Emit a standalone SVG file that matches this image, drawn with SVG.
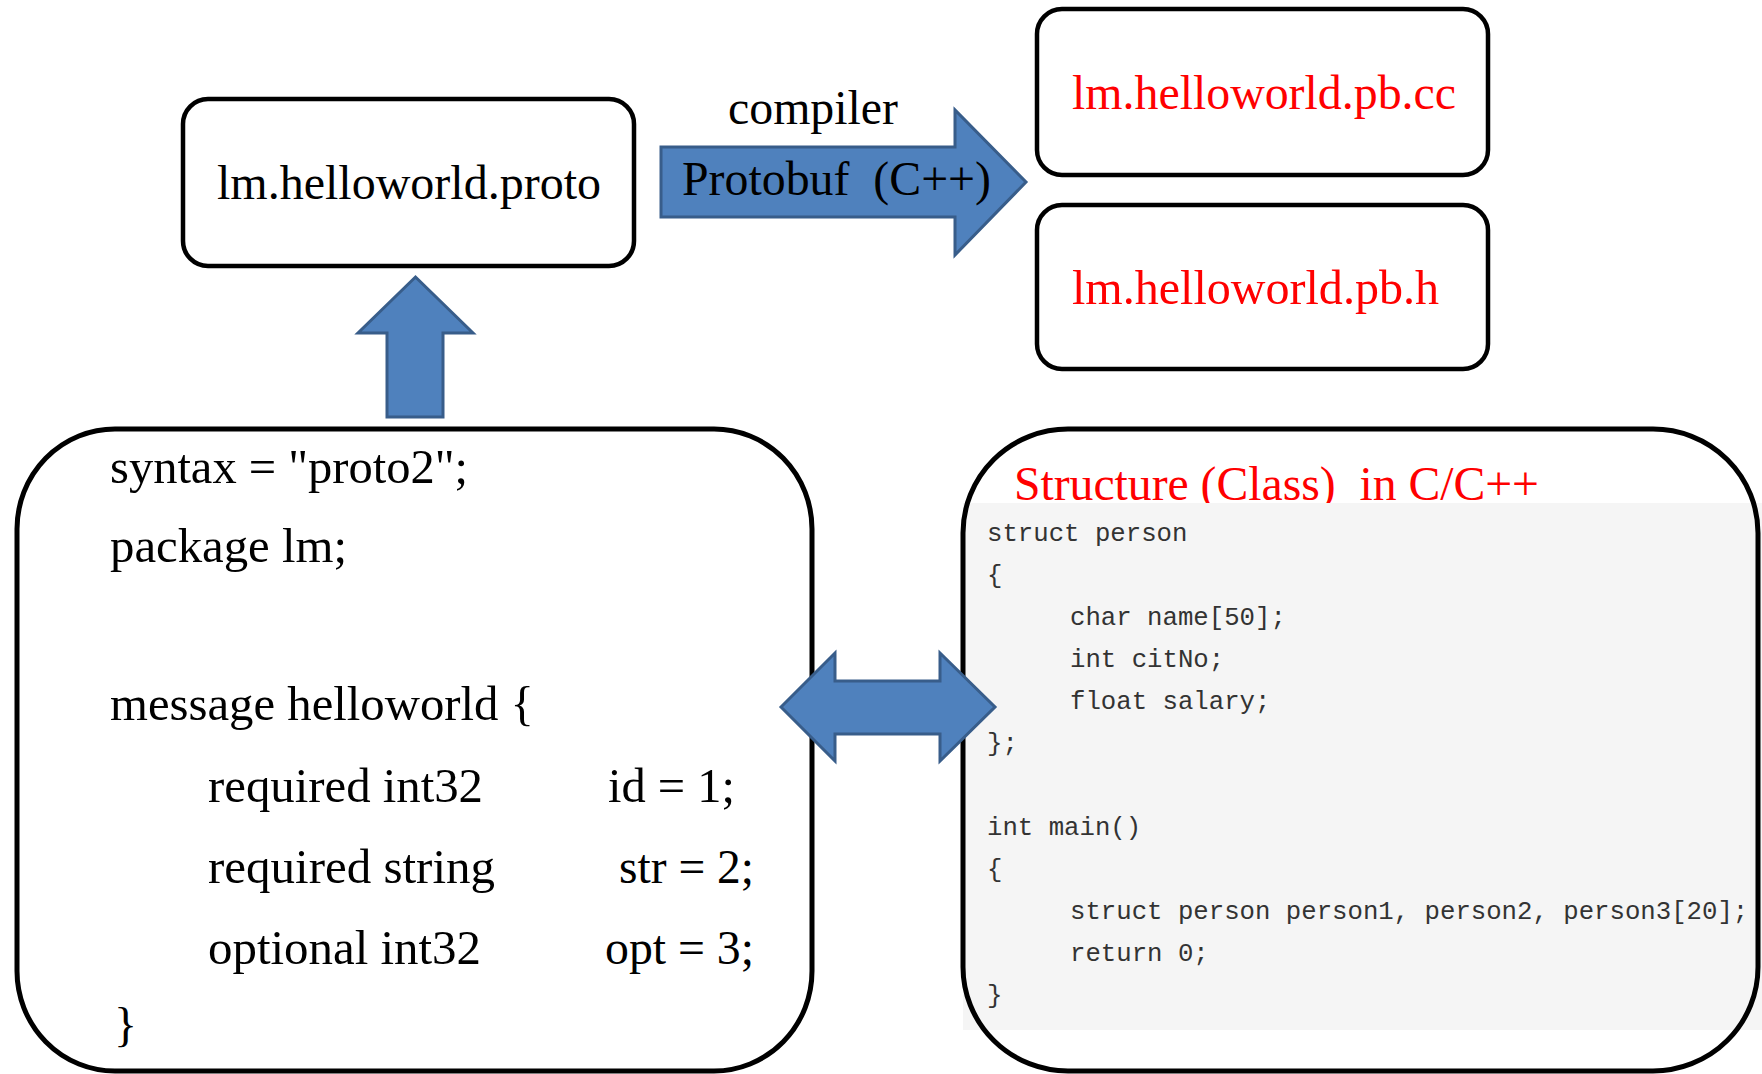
<svg xmlns="http://www.w3.org/2000/svg" width="1762" height="1074" viewBox="0 0 1762 1074">
<style>
.box{fill:#ffffff;stroke:#000000;stroke-width:4.5}
.bigbox{fill:none;stroke:#000000;stroke-width:5}
.arrow{fill:#4F81BD;stroke:#385D8A;stroke-width:3;stroke-linejoin:miter}
.t{font-family:"Liberation Serif","Times New Roman",serif;font-size:48px;fill:#000000;white-space:pre}
.red{fill:#FF0000}
.code{font-family:"Liberation Mono","DejaVu Sans Mono",monospace;font-size:25.7px;fill:#333333;white-space:pre}
</style>
<rect width="1762" height="1074" fill="#ffffff"/>
<g id="node-proto">
<rect class="box" x="183" y="99" width="451" height="167" rx="25" ry="25"/>
<text class="t" x="217" y="199" textLength="384" lengthAdjust="spacingAndGlyphs">lm.helloworld.proto</text>
</g>
<g id="node-pbcc">
<rect class="box" x="1037" y="9" width="451" height="166" rx="25" ry="25"/>
<text class="t red" x="1072" y="109" textLength="384" lengthAdjust="spacingAndGlyphs">lm.helloworld.pb.cc</text>
</g>
<g id="node-pbh">
<rect class="box" x="1037" y="205" width="451" height="164" rx="25" ry="25"/>
<text class="t red" x="1072" y="304" textLength="367" lengthAdjust="spacingAndGlyphs">lm.helloworld.pb.h</text>
</g>
<g id="node-protofile">
<rect class="bigbox" x="17" y="429" width="795" height="642" rx="98" ry="100"/>
<text class="t" x="110" y="483" textLength="358" lengthAdjust="spacingAndGlyphs">syntax = "proto2";</text>
<text class="t" x="110" y="562" textLength="237" lengthAdjust="spacingAndGlyphs">package lm;</text>
<text class="t" x="110" y="720" textLength="424" lengthAdjust="spacingAndGlyphs">message helloworld {</text>
<text class="t" x="208" y="802" textLength="275" lengthAdjust="spacingAndGlyphs">required int32</text>
<text class="t" x="608" y="802" textLength="127" lengthAdjust="spacingAndGlyphs">id = 1;</text>
<text class="t" x="208" y="883" textLength="287" lengthAdjust="spacingAndGlyphs">required string</text>
<text class="t" x="619" y="883" textLength="135" lengthAdjust="spacingAndGlyphs">str = 2;</text>
<text class="t" x="208" y="964" textLength="273" lengthAdjust="spacingAndGlyphs">optional int32</text>
<text class="t" x="605" y="964" textLength="149" lengthAdjust="spacingAndGlyphs">opt = 3;</text>
<text class="t" x="114" y="1041">}</text>
</g>
<g id="node-struct">
<text class="t red" x="1014" y="500" textLength="525" lengthAdjust="spacingAndGlyphs">Structure (Class)  in C/C++</text>
<rect x="963" y="503" width="799" height="527" fill="#F5F5F5"/>
<text class="code" x="987" y="541">struct person</text>
<text class="code" x="987" y="583">{</text>
<text class="code" x="1070" y="625">char name[50];</text>
<text class="code" x="1070" y="667">int citNo;</text>
<text class="code" x="1070" y="709">float salary;</text>
<text class="code" x="987" y="751">};</text>
<text class="code" x="987" y="835">int main()</text>
<text class="code" x="987" y="877">{</text>
<text class="code" x="1070" y="919">struct person person1, person2, person3[20];</text>
<text class="code" x="1070" y="961">return 0;</text>
<text class="code" x="987" y="1003">}</text>
<rect class="bigbox" x="963" y="429" width="795" height="642" rx="105" ry="104"/>
</g>
<g id="connectors">
<polygon class="arrow" points="661,147 955,147 955,110 1026,182 955,255 955,217 661,217"/>
<polygon class="arrow" points="387,417 387,333 358,333 415.5,277 473,333 443,333 443,417"/>
<polygon class="arrow" points="781,707 835,653 835,681 940,681 940,653 995,707 940,761 940,734 835,734 835,761"/>
<text class="t" x="728" y="124" textLength="170" lengthAdjust="spacingAndGlyphs">compiler</text>
<text class="t" x="682" y="195" textLength="309" lengthAdjust="spacingAndGlyphs">Protobuf  (C++)</text>
</g>
</svg>
